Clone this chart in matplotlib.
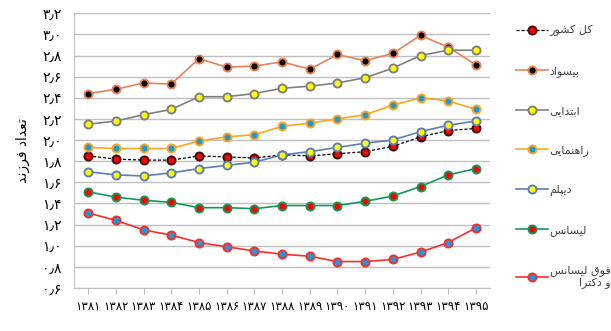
import matplotlib
matplotlib.use('Agg')
import matplotlib.pyplot as plt
import numpy as np

years = [1381, 1382, 1383, 1384, 1385, 1386, 1387, 1388, 1389, 1390, 1391, 1392, 1393, 1394, 1395]

kol_keshvar = [1.85, 1.82, 1.81, 1.81, 1.85, 1.84, 1.83, 1.86, 1.85, 1.87, 1.89, 1.94, 2.03, 2.09, 2.11]
bisavad = [2.44, 2.48, 2.54, 2.53, 2.77, 2.69, 2.70, 2.74, 2.67, 2.81, 2.75, 2.82, 2.99, 2.88, 2.71]
ebtedaei = [2.15, 2.18, 2.24, 2.29, 2.41, 2.41, 2.44, 2.49, 2.51, 2.54, 2.59, 2.68, 2.80, 2.85, 2.85]
rahnamaei = [1.93, 1.92, 1.92, 1.92, 1.99, 2.03, 2.05, 2.13, 2.16, 2.20, 2.24, 2.33, 2.40, 2.37, 2.29]
diplom = [1.70, 1.67, 1.66, 1.69, 1.73, 1.76, 1.79, 1.86, 1.89, 1.93, 1.97, 2.00, 2.08, 2.14, 2.18]
lisans = [1.51, 1.46, 1.43, 1.41, 1.36, 1.36, 1.35, 1.38, 1.38, 1.38, 1.42, 1.47, 1.56, 1.67, 1.73]
foghlisans = [1.31, 1.24, 1.15, 1.10, 1.03, 0.99, 0.95, 0.92, 0.90, 0.85, 0.85, 0.87, 0.94, 1.03, 1.17]

names = ['کل کشور', 'بیسواد', 'ابتدایی', 'راهنمایی', 'دیپلم', 'لیسانس', 'فوق لیسانس\nو دکترا']
ylabel = 'تعداد فرزند'

# isolated, final, initial, medial
FORMS = {
    'ا': ('\uFE8D', '\uFE8E', None, None),
    'آ': ('\uFE81', '\uFE82', None, None),
    'ب': ('\uFE8F', '\uFE90', '\uFE91', '\uFE92'),
    'پ': ('\uFB56', '\uFB57', '\uFB58', '\uFB59'),
    'ت': ('\uFE95', '\uFE96', '\uFE97', '\uFE98'),
    'د': ('\uFEA9', '\uFEAA', None, None),
    'ر': ('\uFEAD', '\uFEAE', None, None),
    'ز': ('\uFEAF', '\uFEB0', None, None),
    'س': ('\uFEB1', '\uFEB2', '\uFEB3', '\uFEB4'),
    'ش': ('\uFEB5', '\uFEB6', '\uFEB7', '\uFEB8'),
    'ع': ('\uFEC9', '\uFECA', '\uFECB', '\uFECC'),
    'ف': ('\uFED1', '\uFED2', '\uFED3', '\uFED4'),
    'ق': ('\uFED5', '\uFED6', '\uFED7', '\uFED8'),
    'ک': ('\uFB8E', '\uFB8F', '\uFB90', '\uFB91'),
    'ل': ('\uFEDD', '\uFEDE', '\uFEDF', '\uFEE0'),
    'م': ('\uFEE1', '\uFEE2', '\uFEE3', '\uFEE4'),
    'ن': ('\uFEE5', '\uFEE6', '\uFEE7', '\uFEE8'),
    'ه': ('\uFEE9', '\uFEEA', '\uFEEB', '\uFEEC'),
    'و': ('\uFEED', '\uFEEE', None, None),
    'ی': ('\uFBFC', '\uFBFD', '\uFBFE', '\uFBFF'),
}


def shape_line(s):
    out = []
    for i, ch in enumerate(s):
        if ch not in FORMS:
            out.append(ch)
            continue
        prev = s[i - 1] if i > 0 else None
        nxt = s[i + 1] if i + 1 < len(s) else None
        jp = prev in FORMS and FORMS[prev][2] is not None
        jn = nxt in FORMS and FORMS[ch][2] is not None
        f = FORMS[ch]
        if jp and jn:
            out.append(f[3])
        elif jp:
            out.append(f[1])
        elif jn:
            out.append(f[2])
        else:
            out.append(f[0])
    return ''.join(out)[::-1]


def fa(s):
    return '\n'.join(shape_line(l) for l in s.split('\n'))


def fa_num(s):
    return s.translate(str.maketrans('0123456789.', '۰۱۲۳۴۵۶۷۸۹٫'))


styles = [
    dict(color='black', ls=(0, (2.5, 1.5)), lw=0.9, mfc='#ff0000', mec='#3a1010'),
    dict(color='#e4845c', ls='-', lw=1.2, mfc='black', mec='#e4845c'),
    dict(color='#7f7f7f', ls='-', lw=1.2, mfc='#ffff00', mec='#7f7f7f'),
    dict(color='#ffa51f', ls='-', lw=1.2, mfc='#1b9ad6', mec='#ffa51f'),
    dict(color='#5b7db8', ls='-', lw=1.2, mfc='#ffff00', mec='#5b7db8'),
    dict(color='#12995a', ls='-', lw=1.2, mfc='#ff0000', mec='#12995a'),
    dict(color='#ff2a2a', ls='-', lw=1.2, mfc='#1b9ad6', mec='#ff2a2a'),
]
series = [kol_keshvar, bisavad, ebtedaei, rahnamaei, diplom, lisans, foghlisans]

fig = plt.figure(figsize=(6.11, 3.31), dpi=100)
ax = fig.add_axes([0.1216, 0.13, 0.680, 0.83])

for vals, name, st in zip(series, names, styles):
    ax.plot(years, vals, marker='o', ms=5.8, mew=1.4, label=fa(name),
            color=st['color'], ls=st['ls'], lw=st['lw'],
            mfc=st['mfc'], mec=st['mec'], zorder=3)

ax.set_xlim(1380.5, 1395.5)
ax.set_ylim(0.6, 3.2)
yt = np.round(np.arange(0.6, 3.21, 0.2), 1)
ax.set_yticks(yt)
ax.set_yticklabels([fa_num('%.1f' % v) for v in yt], fontsize=10)
ax.set_xticks(years)
ax.set_xticklabels([fa_num(str(y)) for y in years], fontsize=8.5)
ax.grid(axis='y', color='#bfbfbf', lw=1)
ax.set_axisbelow(True)
for s in ['top', 'right']:
    ax.spines[s].set_visible(False)
ax.spines['left'].set_color('#bfbfbf')
ax.spines['bottom'].set_color('#bfbfbf')
ax.tick_params(axis='y', length=0, pad=9)
ax.tick_params(axis='x', length=4, color='#bfbfbf', pad=5)
ax.set_ylabel(fa(ylabel), fontsize=10, labelpad=9)

leg = ax.legend(loc='upper left', bbox_to_anchor=(1.04, 0.993), frameon=False,
                fontsize=8, labelspacing=2.62, handlelength=2.8, handletextpad=0.2)
for t in leg.get_texts():
    t.set_color('#404040')
    t.set_multialignment('right')

fig.savefig('out.png', dpi=100)
